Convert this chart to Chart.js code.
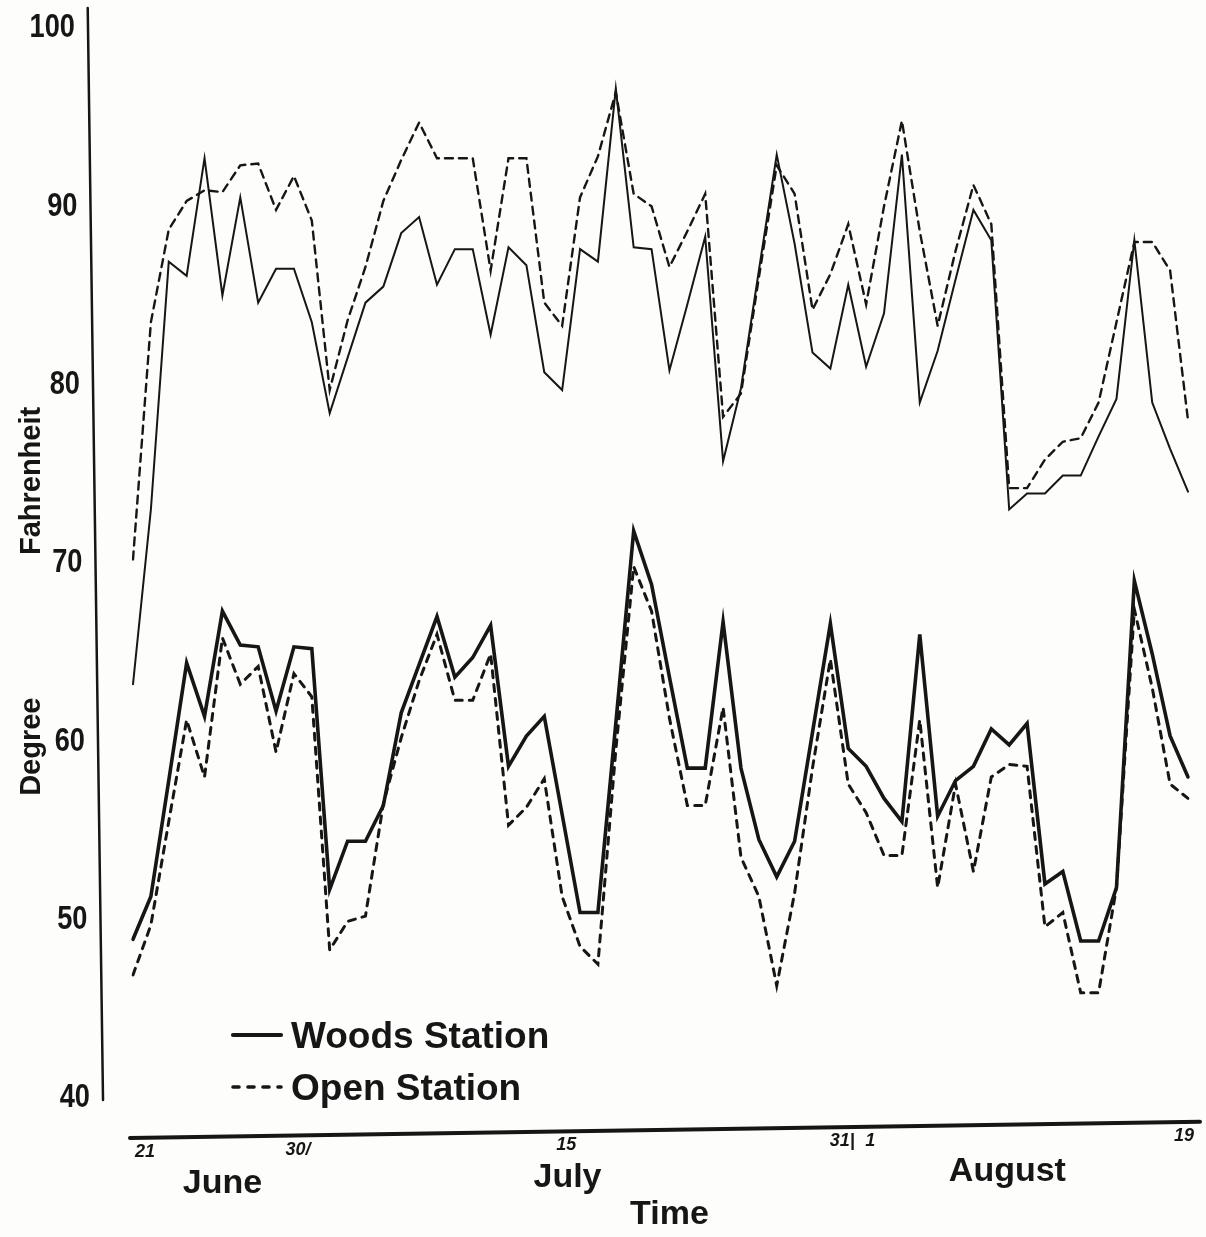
<!DOCTYPE html>
<html>
<head>
<meta charset="utf-8">
<script src="https://cdn.jsdelivr.net/npm/chart.js@4.4.1/dist/chart.umd.min.js"></script>
<style>
  html, body { margin: 0; padding: 0; background: #fdfdfc; }
  #wrap { width: 1206px; height: 1237px; position: relative; }
</style>
</head>
<body>
<div id="wrap"><canvas id="tempChart"></canvas></div>
<script>
// one reading per day, June 21 -> August 19
const monthRuns = [['Jun', 21, 30], ['Jul', 1, 31], ['Aug', 1, 19]];
const days = [];
monthRuns.forEach(([m, first, last]) => {
    for (let d = first; d <= last; d++) days.push(m + ' ' + d);
});

// daily maxima (upper pair)
const woodsMax = [63.2, 73.0, 86.9, 86.1, 92.7, 85.0, 90.5, 84.6, 86.5, 86.5,
                  83.5, 78.4, 81.5, 84.6, 85.5, 88.5, 89.4, 85.6, 87.6, 87.6,
                  82.8, 87.7, 86.7, 80.7, 79.7, 87.6, 86.9, 96.6, 87.7, 87.6,
                  80.8, 84.5, 88.3, 75.7, 79.8, 86.4, 92.9, 87.9, 81.8, 80.9,
                  85.6, 81.0, 84.0, 92.9, 79.0, 81.9, 85.9, 89.8, 88.1, 73.0,
                  73.9, 73.9, 74.9, 74.9, 77.1, 79.2, 88.1, 79.0, 76.4, 74.0];
const openMax  = [70.2, 83.5, 88.7, 90.3, 90.9, 90.8, 92.3, 92.4, 89.8, 91.7,
                  89.2, 79.7, 83.6, 86.6, 90.3, 92.6, 94.7, 92.7, 92.7, 92.7,
                  86.4, 92.7, 92.7, 84.6, 83.3, 90.5, 92.8, 96.4, 90.7, 90.0,
                  86.6, 88.6, 90.7, 78.2, 79.5, 86.0, 92.3, 90.7, 84.2, 86.2,
                  89.0, 84.5, 90.0, 94.8, 88.6, 83.3, 87.5, 91.2, 89.0, 74.2,
                  74.2, 75.8, 76.8, 77.0, 79.0, 83.5, 88.0, 88.0, 86.4, 78.0];

// daily minima (lower pair)
const woodsMin = [48.9, 51.3, 57.8, 64.4, 61.4, 67.3, 65.4, 65.3, 61.7, 65.3,
                  65.2, 51.7, 54.4, 54.4, 56.4, 61.6, 64.3, 67.0, 63.6, 64.7,
                  66.5, 58.6, 60.3, 61.4, 55.9, 50.4, 50.4, 61.0, 71.8, 68.8,
                  63.6, 58.5, 58.5, 66.7, 58.5, 54.5, 52.4, 54.4, 60.5, 66.6,
                  59.6, 58.6, 56.8, 55.5, 66.0, 55.8, 57.8, 58.6, 60.7, 59.8,
                  61.0, 52.0, 52.7, 48.8, 48.8, 51.8, 69.0, 64.9, 60.3, 58.0];
const openMin  = [46.9, 49.7, 55.5, 61.2, 58.0, 65.8, 63.2, 64.2, 59.4, 63.8,
                  62.5, 48.3, 49.9, 50.2, 56.5, 60.2, 63.4, 66.0, 62.3, 62.3,
                  64.9, 55.3, 56.3, 57.9, 51.3, 48.5, 47.5, 59.5, 69.8, 67.3,
                  61.3, 56.4, 56.4, 61.9, 53.5, 51.3, 46.3, 51.5, 58.5, 64.6,
                  57.6, 56.0, 53.6, 53.6, 61.2, 51.8, 57.6, 52.7, 58.0, 58.7,
                  58.6, 49.6, 50.4, 45.9, 45.9, 51.8, 67.4, 63.0, 57.6, 56.8];

const yTicks = [40, 50, 60, 70, 80, 90, 100];
const dayTicks = [[0, '21'], [9, '30/'], [24, '15'], [40, '31|'], [41, '1'], [59, '19']];
const monthNames = [['June', 5], ['July', 24.3], ['August', 48.9]];

const ink = '#161616';
const hand = '"Liberation Sans", "DejaVu Sans", sans-serif';

const series = [
    { label: 'Woods Station', data: woodsMax, borderWidth: 2, borderDash: [] },
    { label: 'Open Station', data: openMax, borderWidth: 2.4, borderDash: [8, 6] },
    { label: 'Woods Station', data: woodsMin, borderWidth: 3.6, borderDash: [] },
    { label: 'Open Station', data: openMin, borderWidth: 3, borderDash: [7, 7] }
];

// hand drawn axes, lettering and key
const paperDecor = {
    id: 'paperDecor',
    afterDraw(chart) {
        const { ctx, chartArea: a, scales: { x, y } } = chart;
        const baseY = px => a.bottom + 40 - (px - a.left) * 16 / (a.right - a.left);
        const axisX = py => a.left - 45 + (py - a.top) * 15 / (a.bottom - a.top);

        ctx.save();
        ctx.strokeStyle = ink;
        ctx.fillStyle = ink;
        ctx.lineCap = 'round';

        // y axis
        ctx.lineWidth = 2.5;
        ctx.beginPath();
        ctx.moveTo(axisX(a.top - 20), a.top - 20);
        ctx.lineTo(axisX(a.bottom + 2), a.bottom + 2);
        ctx.stroke();

        // x axis
        ctx.lineWidth = 4;
        ctx.beginPath();
        ctx.moveTo(a.left - 3, baseY(a.left - 3));
        ctx.lineTo(a.right + 12, baseY(a.right + 12));
        ctx.stroke();

        // y tick labels, narrow lettering
        ctx.font = 'bold 34px ' + hand;
        ctx.textAlign = 'right';
        ctx.textBaseline = 'middle';
        yTicks.forEach(v => {
            const py = y.getPixelForValue(v);
            ctx.save();
            ctx.translate(axisX(py) - 13, py);
            ctx.scale(0.8, 1);
            ctx.fillText(String(v), 0, 0);
            ctx.restore();
        });

        // day marks under the axis
        ctx.font = 'italic bold 18px ' + hand;
        ctx.textAlign = 'center';
        ctx.textBaseline = 'top';
        dayTicks.forEach(([i, t]) => {
            const px = x.getPixelForValue(i);
            const shift = i === 0 ? 12 : (i === 59 ? -4 : (i === 40 ? -6 : 4));
            ctx.fillText(t, px + shift, baseY(px) + 5);
        });

        // month names and axis titles
        ctx.font = 'bold 34px ' + hand;
        ctx.textBaseline = 'alphabetic';
        monthNames.forEach(([name, i]) => {
            const px = x.getPixelForValue(i);
            ctx.fillText(name, px, baseY(px) + 56);
        });
        const tx = x.getPixelForValue(30);
        ctx.fillText('Time', tx, baseY(tx) + 94);

        ctx.save();
        ctx.translate(40, 0);
        ctx.rotate(-Math.PI / 2);
        ctx.font = 'bold 29px ' + hand;
        ctx.textAlign = 'center';
        ctx.fillText('Degree', -y.getPixelForValue(59.7), 0);
        ctx.fillText('Fahrenheit', -y.getPixelForValue(74.6), 0);
        ctx.restore();

        // key
        ctx.font = 'bold 37px ' + hand;
        ctx.textAlign = 'left';
        const keyX = a.left + 100;
        [[series[2], a.bottom - 50], [series[3], a.bottom + 2]].forEach(([s, by]) => {
            ctx.lineWidth = s.borderWidth + 0.6;
            ctx.setLineDash(s.borderDash.length ? [6, 9] : []);
            ctx.beginPath();
            ctx.moveTo(keyX, by - 13);
            ctx.lineTo(keyX + 48, by - 13);
            ctx.stroke();
            ctx.setLineDash([]);
            ctx.fillText(s.label, keyX + 58, by);
        });
        ctx.restore();
    }
};

new Chart(document.getElementById('tempChart'), {
    type: 'line',
    data: {
        labels: days,
        datasets: series.map(s => ({
            label: s.label,
            data: s.data,
            borderColor: ink,
            borderWidth: s.borderWidth,
            borderDash: s.borderDash,
            borderCapStyle: 'round',
            borderJoinStyle: 'miter',
            pointRadius: 0,
            tension: 0,
            fill: false
        }))
    },
    options: {
        responsive: true,
        maintainAspectRatio: false,
        animation: false,
        layout: { padding: { left: 133, right: 18, top: 28, bottom: 139 } },
        plugins: { legend: { display: false }, tooltip: { enabled: false } },
        scales: {
            x: { display: false },
            y: { display: false, min: 40, max: 100 }
        }
    },
    plugins: [paperDecor]
});
</script>
</body>
</html>
